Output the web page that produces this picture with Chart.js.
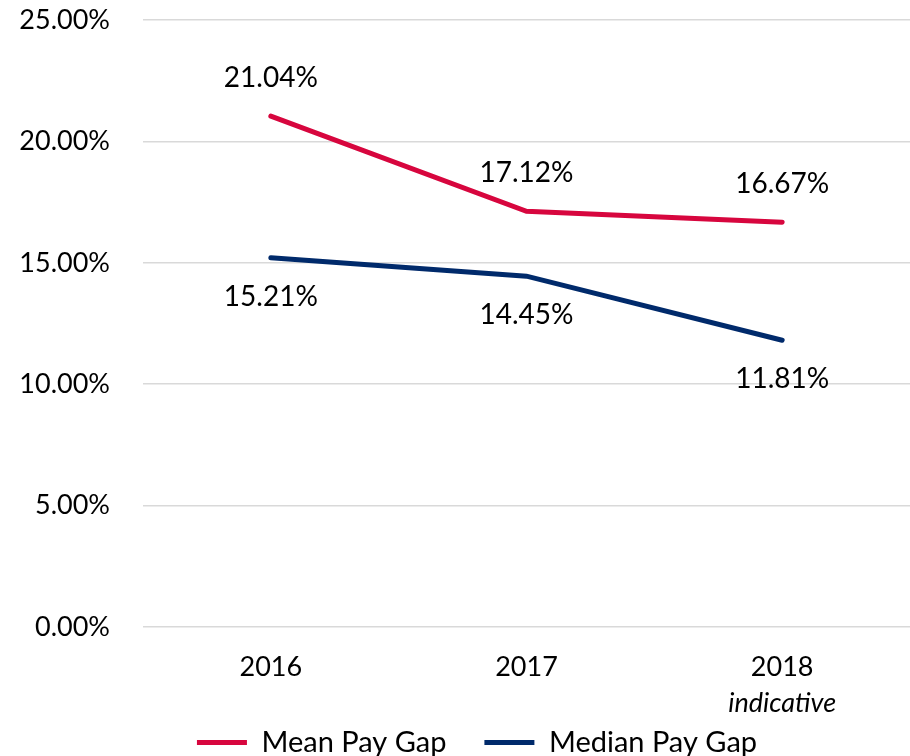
<!DOCTYPE html>
<html>
<head>
<meta charset="utf-8">
<script src="https://cdn.jsdelivr.net/npm/chart.js"></script>
<style>
  html, body { margin: 0; padding: 0; background: #fff; overflow: hidden; }
  #wrap { width: 910px; height: 756px; }
</style>
</head>
<body>
<div id="wrap"><canvas id="payGap"></canvas></div>
<script>
// data
const years = ['2016', '2017', '2018'];
const yearNotes = ['', '', 'indicative'];
const meanGap = [21.04, 17.12, 16.67];
const medianGap = [15.21, 14.45, 11.81];
const yTickStep = 5;
const yMax = 25;

const FONT = 'Lato';
const RED = '#d7063e';
const NAVY = '#002a6b';

// percentage labels next to each point, plus the italic note under 2018
const valueLabels = {
  id: 'valueLabels',
  afterDatasetsDraw(chart) {
    const ctx = chart.ctx;
    ctx.save();
    ctx.font = '28px ' + FONT;
    ctx.fillStyle = '#000';
    ctx.textAlign = 'center';
    ctx.textBaseline = 'middle';
    chart.data.datasets.forEach((ds, i) => {
      chart.getDatasetMeta(i).data.forEach((pt, j) => {
        ctx.fillText(ds.data[j].toFixed(2) + '%', pt.x, pt.y + ds.labelOffset);
      });
    });
    const xs = chart.scales.x;
    ctx.font = 'italic 27px ' + FONT;
    yearNotes.forEach((note, j) => {
      if (note) ctx.fillText(note, xs.getPixelForValue(j), xs.top + 76);
    });
    ctx.restore();
  }
};

// move the legend to where the original has it
const legendShift = {
  id: 'legendShift',
  afterLayout(chart) {
    const lg = chart.legend;
    const dx = 22;
    const dy = 690 - lg.top;
    lg.left += dx; lg.right += dx;
    lg.top += dy; lg.bottom += dy;
  }
};

new Chart('payGap', {
  type: 'line',
  data: {
    labels: years,
    datasets: [
      {
        label: 'Mean Pay Gap',
        data: meanGap,
        borderColor: RED,
        backgroundColor: RED,
        borderWidth: 5,
        borderCapStyle: 'round',
        pointRadius: 0,
        tension: 0,
        labelOffset: -38
      },
      {
        label: 'Median Pay Gap',
        data: medianGap,
        borderColor: NAVY,
        backgroundColor: NAVY,
        borderWidth: 5,
        borderCapStyle: 'round',
        pointRadius: 0,
        tension: 0,
        labelOffset: 39
      }
    ]
  },
  options: {
    responsive: true,
    maintainAspectRatio: false,
    animation: false,
    layout: { padding: { top: 20, left: 0, right: 0, bottom: 0 } },
    plugins: {
      tooltip: { enabled: false },
      legend: {
        position: 'bottom',
        labels: {
          color: '#000',
          font: { family: FONT, size: 29 },
          usePointStyle: true,
          pointStyle: 'line',
          pointStyleWidth: 50,
          padding: 38
        }
      }
    },
    scales: {
      x: {
        offset: true,
        grid: { display: false },
        border: { display: false },
        ticks: { color: '#000', font: { family: FONT, size: 27 }, padding: 16 },
        afterFit(s) { s.height = 129 - s.chart.legend.height; }
      },
      y: {
        min: 0,
        max: yMax,
        grid: {
          color: '#d9d9d9',
          lineWidth: 1.5,
          drawTicks: true,
          tickLength: 33,
          tickColor: 'rgba(0,0,0,0)'
        },
        border: { display: false },
        ticks: {
          stepSize: yTickStep,
          color: '#000',
          font: { family: FONT, size: 27 },
          padding: 0,
          callback: v => v.toFixed(2) + '%'
        },
        afterFit(s) { s.width = 143; }
      }
    }
  },
  plugins: [valueLabels, legendShift]
});
</script>
</body>
</html>
